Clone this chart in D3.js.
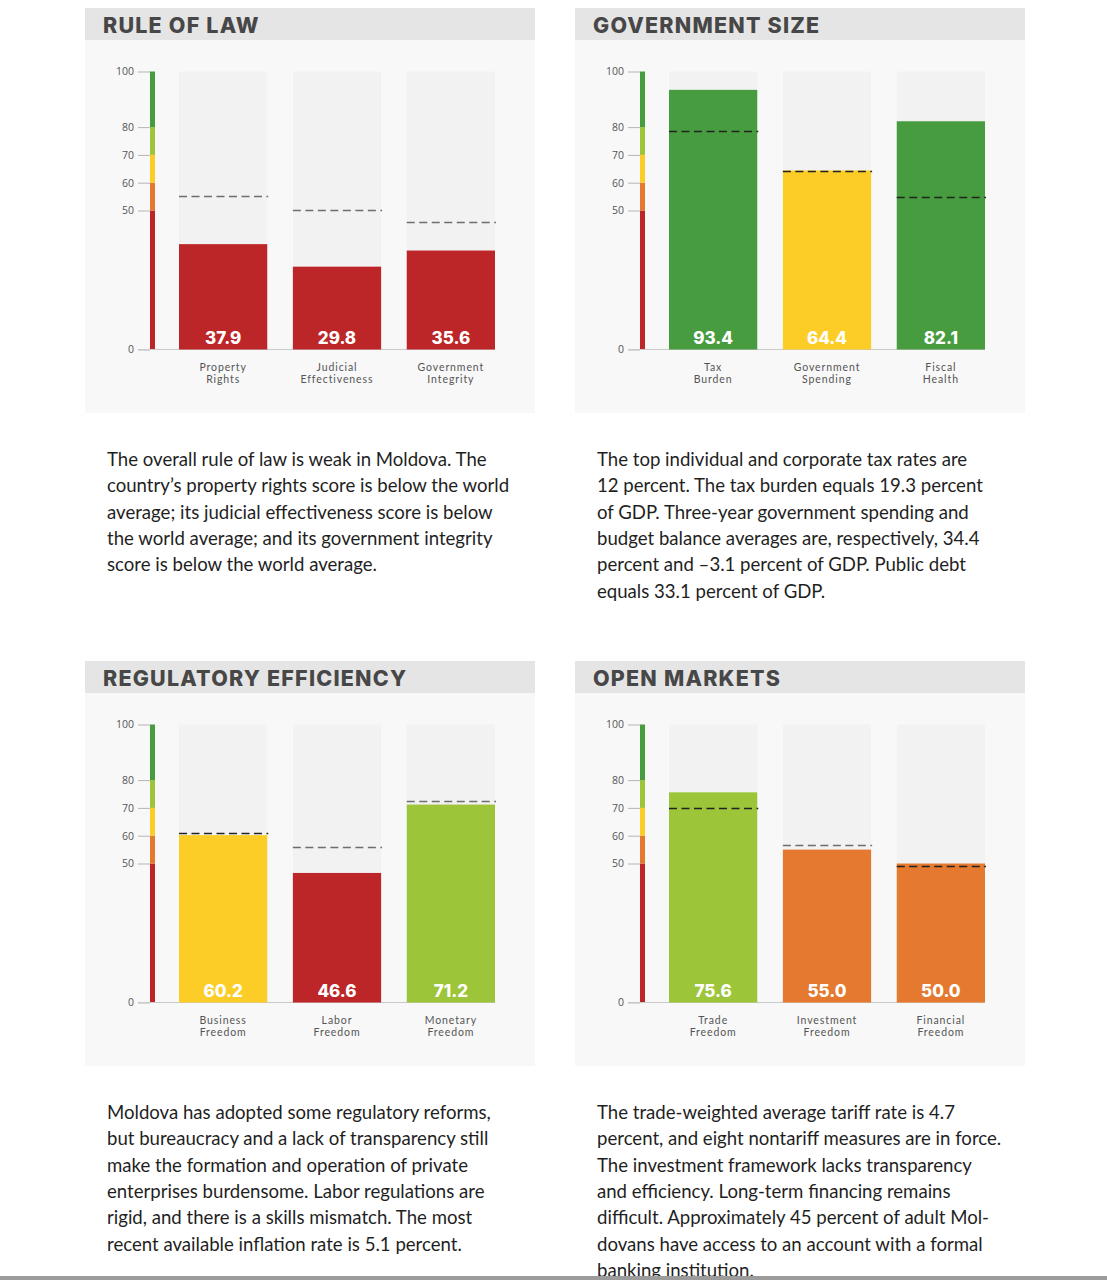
<!DOCTYPE html>
<html>
<head>
<meta charset="utf-8">
<script src="https://cdn.jsdelivr.net/npm/d3@7/dist/d3.min.js"></script>
<style>
  body { margin: 0; background: #fff; }
  svg { display: block; }
</style>
</head>
<body>
<div id="chart"></div>
<script>
// panel titles, in reading order
var panelTitles = ["RULE OF LAW", "GOVERNMENT SIZE", "REGULATORY EFFICIENCY", "OPEN MARKETS"];

var categories = [
  ["Property Rights", "Judicial Effectiveness", "Government Integrity"],
  ["Tax Burden", "Government Spending", "Fiscal Health"],
  ["Business Freedom", "Labor Freedom", "Monetary Freedom"],
  ["Trade Freedom", "Investment Freedom", "Financial Freedom"]
];

// country scores
var scores = [
  [37.9, 29.8, 35.6],
  [93.4, 64.4, 82.1],
  [60.2, 46.6, 71.2],
  [75.6, 55.0, 50.0]
];

// world averages (dashed lines)
var worldAvg = [
  [55.0, 50.0, 45.7],
  [78.4, 64.0, 54.7],
  [60.8, 55.8, 72.3],
  [69.8, 56.5, 48.9]
];

var tickValues = [0, 50, 60, 70, 80, 100];
var bandBreaks = [0, 50, 60, 70, 80, 100];
var bandColors = ["#bd2629", "#e4792f", "#fbcd26", "#9dc53a", "#469c3f"];

var paragraphs = [
  ["The overall rule of law is weak in Moldova. The",
   "country\u2019s property rights score is below the world",
   "average; its judicial effectiveness score is below",
   "the world average; and its government integrity",
   "score is below the world average."],
  ["The top individual and corporate tax rates are",
   "12 percent. The tax burden equals 19.3 percent",
   "of GDP. Three-year government spending and",
   "budget balance averages are, respectively, 34.4",
   "percent and \u20133.1 percent of GDP. Public debt",
   "equals 33.1 percent of GDP."],
  ["Moldova has adopted some regulatory reforms,",
   "but bureaucracy and a lack of transparency still",
   "make the formation and operation of private",
   "enterprises burdensome. Labor regulations are",
   "rigid, and there is a skills mismatch. The most",
   "recent available inflation rate is 5.1 percent."],
  ["The trade-weighted average tariff rate is 4.7",
   "percent, and eight nontariff measures are in force.",
   "The investment framework lacks transparency",
   "and efficiency. Long-term financing remains",
   "difficult. Approximately 45 percent of adult Mol-",
   "dovans have access to an account with a formal",
   "banking institution."]
];

var width = 1107, height = 1280;
var panelPos = [{x: 85, y: 8}, {x: 575, y: 8}, {x: 85, y: 661}, {x: 575, y: 661}];
var panelW = 450, panelH = 405, headH = 32;

var svg = d3.select("#chart").append("svg")
  .attr("width", width)
  .attr("height", height)
  .style("font-family", "Lato, 'Open Sans', sans-serif");

svg.append("rect").attr("width", width).attr("height", height).attr("fill", "#fff");

var colorFor = function (v) {
  for (var i = bandBreaks.length - 2; i >= 0; i--) {
    if (v >= bandBreaks[i]) return bandColors[i];
  }
  return bandColors[0];
};

var fmt = d3.format(".1f");

panelPos.forEach(function (p, pi) {
  var g = svg.append("g").attr("transform", "translate(" + p.x + "," + p.y + ")");

  g.append("rect").attr("width", panelW).attr("height", panelH).attr("fill", "#f8f8f8");
  g.append("rect").attr("width", panelW).attr("height", headH).attr("fill", "#e5e5e5");
  g.append("text")
    .attr("x", 18).attr("y", 24.5)
    .attr("fill", "#474747")
    .style("font-family", "Inter, 'Open Sans', sans-serif")
    .style("font-weight", 800)
    .style("font-size", "21.5px")
    .style("letter-spacing", "1.2px")
    .text(panelTitles[pi]);

  var y = d3.scaleLinear().domain([0, 100]).range([341.5, 63.5]);
  var x = d3.scaleBand().domain(categories[pi]).range([94, 410]).paddingInner(0.225).paddingOuter(0);

  // axis
  var axis = g.append("g").attr("transform", "translate(65,0)")
    .call(d3.axisLeft(y).tickValues(tickValues).tickSize(12).tickPadding(4));
  axis.select(".domain").remove();
  axis.selectAll(".tick line").attr("stroke", "#b5b5b5");
  axis.selectAll(".tick text")
    .attr("fill", "#555")
    .style("font-family", "'Open Sans', sans-serif")
    .style("font-size", "10.5px");

  // colour scale strip
  g.selectAll(".band").data(d3.range(bandColors.length)).enter().append("rect")
    .attr("x", 65).attr("width", 5)
    .attr("y", function (i) { return y(bandBreaks[i + 1]); })
    .attr("height", function (i) { return y(bandBreaks[i]) - y(bandBreaks[i + 1]); })
    .attr("fill", function (i) { return bandColors[i]; });

  // background bars
  g.selectAll(".bg").data(categories[pi]).enter().append("rect")
    .attr("x", function (d) { return x(d); })
    .attr("width", x.bandwidth())
    .attr("y", y(100))
    .attr("height", y(0) - y(100))
    .attr("fill", "#f3f2f2");

  // baseline
  g.append("line")
    .attr("x1", 53).attr("x2", 410)
    .attr("y1", y(0)).attr("y2", y(0))
    .attr("stroke", "#c9c9c9").attr("stroke-width", 1.2);

  var rows = categories[pi].map(function (c, i) {
    return {cat: c, v: scores[pi][i], avg: worldAvg[pi][i]};
  });

  g.selectAll(".bar").data(rows).enter().append("rect")
    .attr("x", function (d) { return x(d.cat); })
    .attr("width", x.bandwidth())
    .attr("y", function (d) { return y(d.v); })
    .attr("height", function (d) { return y(0) - y(d.v); })
    .attr("fill", function (d) { return colorFor(d.v); });

  g.selectAll(".avg").data(rows).enter().append("line")
    .attr("x1", function (d) { return x(d.cat); })
    .attr("x2", function (d) { return x(d.cat) + x.bandwidth() + 1; })
    .attr("y1", function (d) { return y(d.avg); })
    .attr("y2", function (d) { return y(d.avg); })
    .attr("stroke", function (d) { return d.avg > d.v + 1 ? "#6e6e6e" : "#222"; })
    .attr("stroke-width", 1.5)
    .attr("stroke-dasharray", "8,4.5");

  g.selectAll(".val").data(rows).enter().append("text")
    .attr("x", function (d) { return x(d.cat) + x.bandwidth() / 2; })
    .attr("y", y(0) - 6)
    .attr("text-anchor", "middle")
    .attr("fill", "#fff")
    .style("font-family", "Inter, sans-serif")
    .style("font-weight", 800)
    .style("font-size", "17px")
    .text(function (d) { return fmt(d.v); });

  // two-line category labels, one text per line
  rows.forEach(function (d) {
    d.cat.split(" ").forEach(function (w, k) {
      g.append("text")
        .attr("x", x(d.cat) + x.bandwidth() / 2)
        .attr("y", y(0) + 21 + k * 12.6)
        .attr("text-anchor", "middle")
        .attr("fill", "#555")
        .style("font-family", "Lato, sans-serif")
        .style("font-size", "10.5px")
        .style("letter-spacing", "0.9px")
        .text(w);
    });
  });

  // paragraph under the panel
  var tx = p.x + 22;
  var ty = p.y + panelH + 53;
  var para = svg.append("text")
    .attr("fill", "#1f1f1f")
    .style("font-size", "18.6px");
  paragraphs[pi].forEach(function (line, k) {
    para.append("tspan").attr("x", tx).attr("y", ty + k * 26.3).text(line);
  });
});

// grey rule at the bottom edge
svg.append("rect").attr("x", 0).attr("y", 1276).attr("width", width).attr("height", 4).attr("fill", "#9c9c9c");
</script>
</body>
</html>
